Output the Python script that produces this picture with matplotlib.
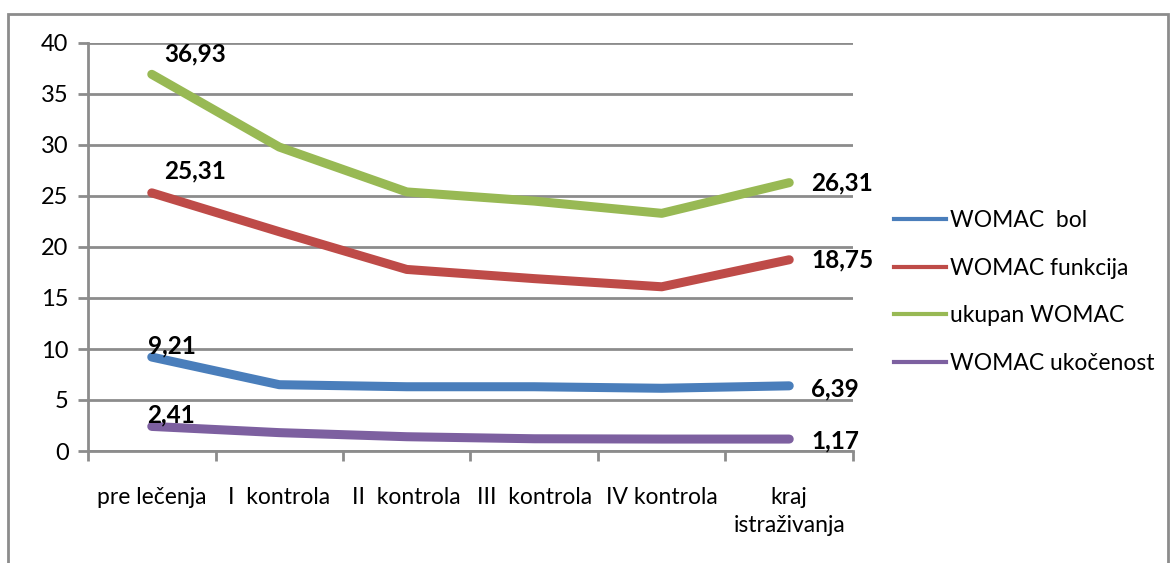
import numpy as np
import matplotlib
matplotlib.use("Agg")
import matplotlib.pyplot as plt
from matplotlib.patches import Rectangle

plt.rcParams['font.family'] = ['Lato', 'DejaVu Sans']

# Data
categories = ["pre lečenja", "I  kontrola", "II  kontrola", "III  kontrola",
              "IV kontrola", "kraj\nistraživanja"]
womac_bol = [9.21, 6.5, 6.3, 6.3, 6.15, 6.39]
womac_funkcija = [25.31, 21.5, 17.8, 16.9, 16.1, 18.75]
ukupan_womac = [36.93, 29.8, 25.4, 24.5, 23.3, 26.31]
womac_ukocenost = [2.41, 1.8, 1.4, 1.2, 1.17, 1.17]

series_names = ["WOMAC  bol", "WOMAC funkcija", "ukupan WOMAC", "WOMAC ukočenost"]
series_vals = [womac_bol, womac_funkcija, ukupan_womac, womac_ukocenost]
colors = ["#4A7EBB", "#BE4B48", "#98B954", "#7D60A0"]

# label offsets (points) for first and last value
first_off = [(-3, 8), (9, 16), (9, 15), (-3, 8)]
last_off = [(16, -2), (16, 0), (16, 0), (16, -1)]

fig = plt.figure(figsize=(11.76, 5.63), dpi=100)
ax = fig.add_axes([88/1176, 1-451/563, (853-88)/1176, (451-43)/563])

x = np.arange(len(categories))
handles = []
for name, vals, c, fo, lo in zip(series_names, series_vals, colors, first_off, last_off):
    ax.plot(x, vals, color=c, lw=6.5, solid_capstyle='round', solid_joinstyle='round', zorder=3)
    handles.append(plt.Line2D([], [], color=c, lw=3, label=name))
    for i, off in [(0, fo), (len(x)-1, lo)]:
        ax.annotate(f"{vals[i]:.2f}".replace('.', ','), (x[i], vals[i]), xytext=off,
                    textcoords='offset points', ha='left', va='center', fontsize=17.5,
                    fontweight='bold', color='black', zorder=4)

ax.set_xlim(-0.5, len(x)-0.5)
ax.set_ylim(0, 40)
ax.set_yticks(np.arange(0, 41, 5))
ax.yaxis.grid(True, color='#8c8c8c', lw=2)
ax.set_axisbelow(True)
ax.set_xticks(x)
ax.set_xticklabels(categories, fontsize=16.5, linespacing=1.4)
ax.set_xticks(np.arange(-0.5, len(x), 1), minor=True)
ax.tick_params(axis='x', which='major', length=0, pad=26)
ax.tick_params(axis='x', which='minor', length=7, width=2, color='#8c8c8c', direction='out')
ax.tick_params(axis='y', length=7, width=2, color='#8c8c8c', labelsize=17, pad=7)
for s in ['top', 'right']:
    ax.spines[s].set_visible(False)
for s in ['left', 'bottom']:
    ax.spines[s].set_color('#8c8c8c')
    ax.spines[s].set_linewidth(2)

fig.legend(handles=handles, loc='center left', bbox_to_anchor=(873/1176, 1-292/563),
           frameon=False, fontsize=16.5, handlelength=2.3, handletextpad=0.15,
           labelspacing=1.17)

fig.add_artist(Rectangle((8/1176, -0.1), (1168-8)/1176, 1.1-14/563, transform=fig.transFigure,
                         fill=False, edgecolor='#8c8c8c', lw=2))

fig.savefig("out.png", dpi=100)
